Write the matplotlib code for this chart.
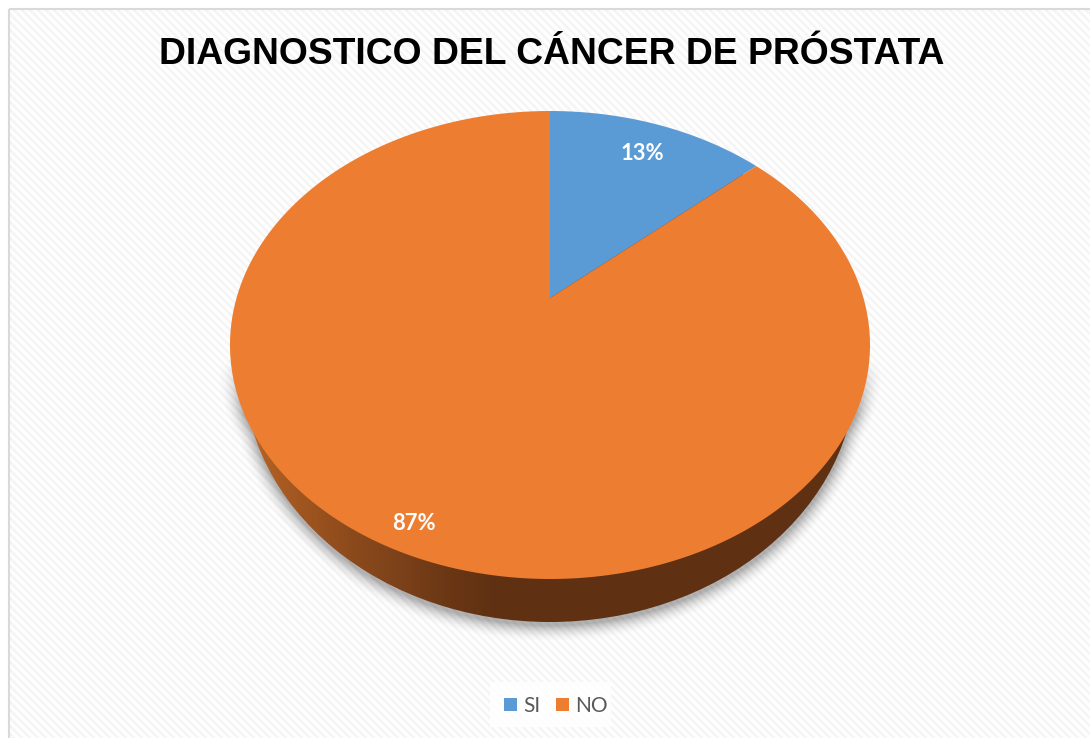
import numpy as np
import matplotlib
matplotlib.use("Agg")
import matplotlib.pyplot as plt
from matplotlib.patches import Polygon, Ellipse, Rectangle, Patch
from matplotlib.colors import LinearSegmentedColormap

title = "DIAGNOSTICO DEL CÁNCER DE PRÓSTATA"
categories = ["SI", "NO"]
values = [13.4, 86.6]
value_labels = ["13%", "87%"]
colors = ["#5B9BD5", "#ED7D31"]

W, H = 1090, 738
fig = plt.figure(figsize=(W / 100, H / 100), dpi=100)
ax = fig.add_axes([0, 0, 1, 1])

# pie slices from the data, in unit-circle coordinates
wedges, _ = ax.pie(values, startangle=90, counterclock=False, colors=colors, radius=1)
thetas = [(w.theta1, w.theta2) for w in wedges]
for w in wedges:
    w.remove()
ax.set_aspect("auto")
ax.set_xlim(0, W)
ax.set_ylim(H, 0)
ax.axis("off")

# perspective tilt of the top face
CX, CY, RX, RY, APEX_Y = 550, 345, 320, 234, 298
k = (CY - APEX_Y) / RY
a = RX * np.sqrt(1 - k * k)
def tilt(x, y):
    d = 1 + k * y
    return CX + a * x / d, CY - (RY * y + (CY - APEX_Y)) / d

# background texture
yy, xx = np.mgrid[0:H, 0:W]
bg = 0.978 + 0.022 * np.cos(2 * np.pi * (xx - yy) / 8.0)
bg = bg + 0.006 * (((xx % 16) < 1) | ((yy % 16) < 1))
bg = np.clip(bg, 0, 1)
bg[yy < 9] = 1
bg[xx < 9] = 1
ax.imshow(bg, cmap="gray", vmin=0, vmax=1, extent=(0, W, H, 0), aspect="auto",
          zorder=0, interpolation="nearest")
ax.add_patch(Rectangle((9, 9), W, H, fill=False, ec="#D9D9D9", lw=1.5, zorder=1))

# soft shadow
BCY, BRX, BRY = 370, 306, 252
def edge_dist(xv, yv, cy, rx, ry):
    dx, dy = (xv - CX) / rx, (yv - cy) / ry
    r = np.sqrt(dx ** 2 + dy ** 2) + 1e-9
    g = np.sqrt((dx / rx) ** 2 + (dy / ry) ** 2) / r
    return (r - 1) / np.maximum(g, 1e-9)
d = np.minimum(edge_dist(xx, yy - 2, CY, RX, RY), edge_dist(xx, yy - 3, BCY, BRX, BRY))
sh = 0.30 * np.clip(1 - d / 18, 0, 1) ** 2 * np.clip((yy - 360) / 55, 0, 1)
rgba = np.zeros((H, W, 4))
rgba[..., 3] = sh
ax.imshow(rgba, extent=(0, W, H, 0), aspect="auto", zorder=2, interpolation="bilinear")

# side wall
cm = LinearSegmentedColormap.from_list("side", [
    (0.0, "#C06A26"), (0.15, "#A85A22"), (0.38, "#8C4A1C"), (0.53, "#7D421A"),
    (0.68, "#6C3815"), (0.85, "#5F3112"), (1.0, "#5F3112")])
x0, x1 = 235, 540
grad = np.clip((np.arange(W) - x0) / (x1 - x0), 0, 1)[None, :]
im = ax.imshow(grad, cmap=cm, vmin=0, vmax=1, extent=(0, W, H, 0), aspect="auto", zorder=3)
clip = Ellipse((CX, BCY), 2 * BRX, 2 * BRY, transform=ax.transData, fc="none", ec="none")
ax.add_patch(clip)
im.set_clip_path(clip)

# top face
for (t1, t2), c in zip(thetas, colors):
    t = np.radians(np.linspace(t1, t2, 400))
    px, py = tilt(np.cos(t), np.sin(t))
    ox, oy = tilt(0.0, 0.0)
    ax.add_patch(Polygon(np.column_stack([np.r_[ox, px], np.r_[oy, py]]), closed=True,
                         fc=c, ec="none", zorder=4))

lab_pos = [(642, 153.5), (414, 523)]
for (lx, ly), s in zip(lab_pos, value_labels):
    ax.text(lx, ly, s, color="white", fontsize=15.8, fontweight="bold", family="Lato",
            ha="center", va="center", zorder=5)

ax.text(551.5, 55, title, fontsize=26.85, fontweight="bold", family="Liberation Sans",
        color="black", ha="center", va="center", zorder=5)

ax.add_patch(Rectangle((490, 682), 121, 45, fc="white", alpha=0.85, ec="none", zorder=4))
handles = [Patch(fc=c, ec="none") for c in colors]
leg = ax.legend(handles, categories, ncol=2, loc="center", frameon=False,
                bbox_to_anchor=(556, 706), bbox_transform=ax.transData,
                prop={"family": "Lato", "size": 15},
                handlelength=0.62, handleheight=0.62, handletextpad=0.3,
                columnspacing=0.75, borderpad=0, borderaxespad=0, labelcolor="#595959")
leg.set_zorder(5)

fig.savefig("out.png", dpi=100)
